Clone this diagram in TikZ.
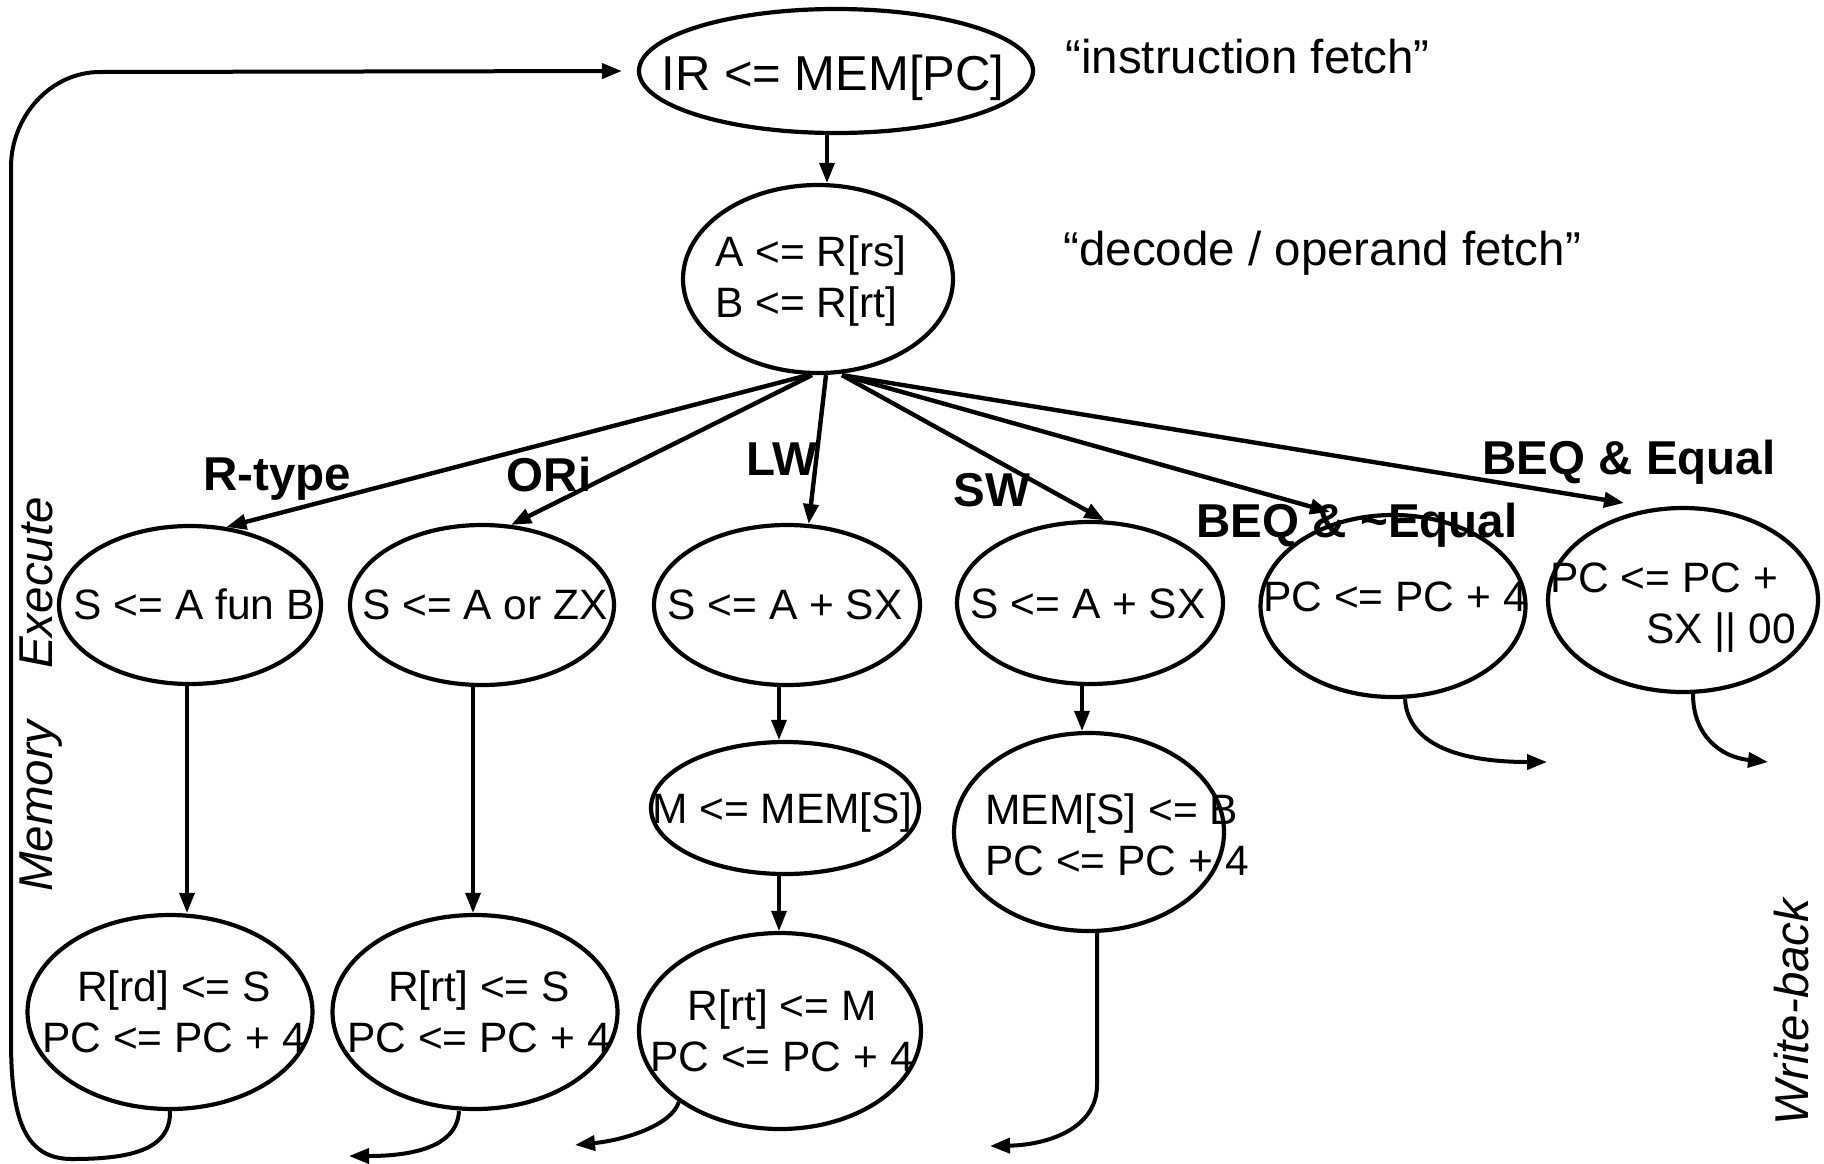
\documentclass[tikz,border=0pt]{standalone}
\usepackage{fontspec}
\setmainfont{Liberation Sans}
\usetikzlibrary{arrows.meta,shapes.geometric}

\begin{document}
\begin{tikzpicture}[x=0.5pt, y=-0.5pt,
  st/.style={draw, ellipse, line width=2.1pt, inner sep=0pt},
  ell/.style 2 args={st, minimum width={#1*0.5pt}, minimum height={#2*0.5pt}},
  txt/.style={font=\fontsize{21.25}{25.5}\selectfont, inner sep=0pt},
  lbl/.style={font=\fontsize{23.75}{28}\selectfont\bfseries, anchor=base, inner sep=0pt},
  note/.style={font=\fontsize{23.75}{28}\selectfont, anchor=base west, inner sep=0pt},
  phase/.style={font=\fontsize{23.75}{28}\selectfont\itshape, rotate=90, anchor=base, inner sep=0pt},
  tip/.style={-{Triangle[length=10pt,width=7.5pt]}},
  fan/.style={tip, line width=2.2pt},
  vline/.style={tip, line width=1.7pt},
  exit/.style={tip, line width=2pt},
]
\useasboundingbox (0,0) rectangle (1824,1163);

% state bubbles
\node[ell={394}{124}] (fetch)  at (836,71)   {};
\node[ell={270}{188}] (decode) at (818,279)  {};
\node[ell={262}{158}] (rt)     at (190,605)  {};
\node[ell={264}{160}] (ori)    at (482,605)  {};
\node[ell={266}{160}] (lw)     at (787,605)  {};
\node[ell={266}{162}] (sw)     at (1090,603) {};
\node[ell={265}{182}] (beqn)   at (1393,606) {};
\node[ell={270}{184}] (beq)    at (1683,600) {};
\node[ell={268}{132}] (lwm)    at (785,808)  {};
\node[ell={270}{198}] (swm)    at (1089,832) {};
\node[ell={285}{194}] (rtw)    at (170,1012) {};
\node[ell={285}{194}] (oriw)   at (475,1012) {};
\node[ell={282}{196}] (lww)    at (780,1031) {};

% register transfers
\node[font=\fontsize{24.5}{29}\selectfont, anchor=base, inner sep=0pt] (fetch-t) at (833,90) {IR <= MEM[PC]};
\node[txt, align=left] (decode-t) at (811,281) {A <= R[rs]\\B <= R[rt]};
\node[txt, anchor=base] (rt-t)   at (194,619)  {S <= A fun B};
\node[txt, anchor=base] (ori-t)  at (485,619)  {S <= A or ZX};
\node[txt, anchor=base] (lw-t)   at (785,619)  {S <= A + SX};
\node[txt, anchor=base] (sw-t)   at (1088,618) {S <= A + SX};
\node[txt, anchor=base] (beqn-t) at (1395,611) {PC <= PC + 4};
\node[txt, align=right] (beq-t)  at (1673,608) {PC <= PC +\hspace*{9pt}\\SX || 00};
\node[txt, anchor=base] (lwm-t)  at (782,823)  {M <= MEM[S]};
\node[txt, align=left]  (swm-t)  at (1117,835) {MEM[S] <= B\\PC <= PC + 4};
\node[txt, align=center] (rtw-t)  at (174,1012) {R[rd] <= S\\PC <= PC + 4};
\node[txt, align=center] (oriw-t) at (479,1012) {R[rt] <= S\\PC <= PC + 4};
\node[txt, align=center] (lww-t)  at (782,1031) {R[rt] <= M\\PC <= PC + 4};

% annotations
\node[note] (n-fetch)  at (1065,73)  {“instruction fetch”};
\node[note] (n-decode) at (1063,265) {“decode / operand fetch”};
\node[phase] (p-ex)  at (52,583)    {Execute};
\node[phase] (p-mem) at (52,806)    {Memory};
\node[phase] (p-wb)  at (1808,1012) {Write-back};

% branch conditions
\node[lbl] (c-rt)   at (277,490)  {R-type};
\node[lbl] (c-ori)  at (549,491)  {ORi};
\node[lbl] (c-lw)   at (782,475)  {LW};
\node[lbl] (c-sw)   at (992,506)  {SW};
\node[lbl] (c-beqn) at (1357,537) {BEQ \& \textasciitilde Equal};
\node[lbl] (c-beq)  at (1629,474) {BEQ \& Equal};

% fetch to decode
\draw[vline] ([xshift=-4.5pt]fetch.south) -- ([xshift=-4.5pt]fetch.south |- decode.north);

% dispatch on opcode
\draw[fan] ([xshift=-5pt]decode.south) -- (rt.65);
\draw[fan] ([xshift=-3pt]decode.south) -- (ori.70);
\draw[fan] ([xshift=4pt]decode.south) -- (lw.75);
\draw[fan] ([xshift=12pt]decode.south) -- (sw.80);
\draw[fan] ([xshift=12pt]decode.south) -- ([xshift=-31.5pt,yshift=47pt]beqn.center);
\draw[fan] ([xshift=12pt]decode.south) -- ([xshift=-29.5pt,yshift=48.5pt]beq.center);

% following steps
\draw[vline] ([xshift=-1.5pt]rt.south)  -- ([xshift=-1.5pt]rt.south |- rtw.north);
\draw[vline] ([xshift=-4.5pt]ori.south) -- ([xshift=-4.5pt]ori.south |- oriw.north);
\draw[vline] ([xshift=-4pt]lw.south)    -- ([xshift=-4pt]lw.south |- lwm.north);
\draw[vline] ([xshift=-3pt]lwm.south)   -- ([xshift=-3pt]lwm.south |- lww.north);
\draw[vline] ([xshift=-4pt]sw.south)    -- ([xshift=-4pt]sw.south |- swm.north);

% back to instruction fetch
\draw[exit] (rtw.south) .. controls (171,1150) and (130,1159) .. (72,1159)
  .. controls (25,1159) and (11,1120) .. (11,1040) -- (11,167)
  .. controls (11,117) and (50,72) .. (100,72) -- ([xshift=-7.5pt]fetch.west);

% open ends
\coordinate (oriw-out) at (349,1156);
\coordinate (lww-out)  at (575,1145);
\coordinate (swm-out)  at (990,1146);
\coordinate (beqn-out) at (1547,762);
\coordinate (beq-out)  at (1768,762);
\draw[exit] ([xshift=-8pt]oriw.south) .. controls (457,1148) and (410,1156) .. (oriw-out);
\draw[exit] (lww.215) .. controls (672,1125) and (625,1140) .. (lww-out);
\draw[exit] ([xshift=4pt]swm.south) -- (1097,1085) .. controls (1097,1130) and (1045,1145) .. (swm-out);
\draw[exit] ([xshift=6pt]beqn.south) .. controls (1408,745) and (1460,762) .. (beqn-out);
\draw[exit] ([xshift=5pt]beq.south) .. controls (1693,735) and (1720,757) .. (beq-out);
\end{tikzpicture}
\end{document}
